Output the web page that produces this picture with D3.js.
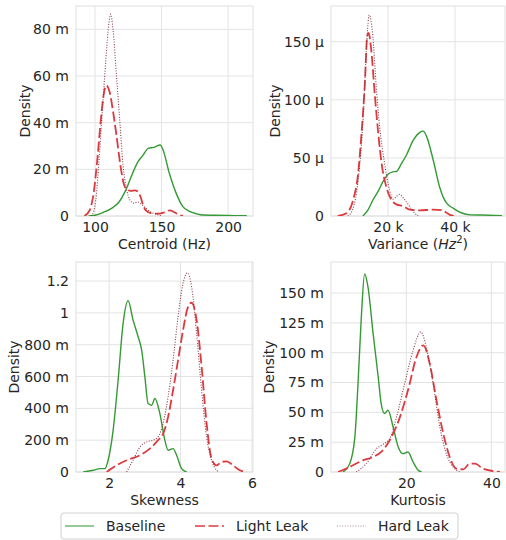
<!DOCTYPE html>
<html>
<head>
<meta charset="utf-8">
<script src="https://cdn.jsdelivr.net/npm/d3@7"></script>
<style>
body{margin:0;background:#fff;}
svg{font-family:"DejaVu Sans",sans-serif;}
</style>
</head>
<body>
<svg id="chart" width="506" height="540"></svg>
<script>
// series names for the legend
const seriesNames=["Baseline","Light Leak","Hard Leak"];

// Centroid (Hz) densities, [x, density]
const centroidBaseline=[[95,0],[100,0.3e-3],[106,1.5e-3],[113,3.5e-3],[118,6e-3],[123,11e-3],[128,18e-3],[132,23e-3],[136,26e-3],[140,29e-3],[144,29.4e-3],[149,30.4e-3],[151,28.5e-3],[156,18e-3],[161,9.7e-3],[166,4e-3],[171,2e-3],[176,1e-3],[181,0.4e-3],[190,0.3e-3],[200,0.2e-3],[214,0.1e-3]];
const centroidLight=[[92,0],[96,2.5e-3],[99,10e-3],[102,26e-3],[104.5,42e-3],[106.5,52e-3],[108.5,56e-3],[111,53e-3],[113.5,45e-3],[116,35e-3],[119,22e-3],[121.5,14e-3],[124,11.3e-3],[127,10.8e-3],[130,11e-3],[132,10.5e-3],[134,8.5e-3],[136,5e-3],[138,2.5e-3],[142,1.2e-3],[148,1e-3],[152,1.5e-3],[156,2.4e-3],[160,1.5e-3],[164,0.3e-3],[166,0]];
const centroidHard=[[97,0],[99,2e-3],[101,9e-3],[103,24e-3],[105.5,45e-3],[108,66e-3],[110.5,83e-3],[111.8,86.5e-3],[113.5,80e-3],[116,61e-3],[118.7,40e-3],[121,22e-3],[123.5,12e-3],[126,7e-3],[129,5.5e-3],[132,6e-3],[135,5e-3],[139,3e-3],[142,1.6e-3],[146,0.8e-3],[150,0]];

// Variance (Hz^2)
const varianceBaseline=[[12500,0],[14000,5e-6],[15500,13.8e-6],[17000,21e-6],[18500,29.5e-6],[20000,36e-6],[21500,38e-6],[22500,38.3e-6],[24000,45e-6],[25500,52.5e-6],[27500,65e-6],[29500,72e-6],[30500,73e-6],[31500,68.5e-6],[33500,48e-6],[35400,25e-6],[36500,16e-6],[37500,11e-6],[39500,6.6e-6],[42000,2.6e-6],[44500,1e-6],[48000,0.8e-6],[54000,0.3e-6]];
const varianceLight=[[5000,0],[7600,2.3e-6],[9600,13.8e-6],[11100,36.7e-6],[12100,71e-6],[13100,114e-6],[13800,155e-6],[14200,157.5e-6],[15000,143e-6],[16100,103e-6],[17100,71e-6],[18100,45e-6],[19500,25e-6],[21000,14e-6],[22500,10e-6],[24500,8.5e-6],[26500,5.5e-6],[29500,4.8e-6],[33500,5.5e-6],[36000,5e-6],[38500,1e-6],[40000,0]];
const varianceHard=[[8000,0],[9600,6.6e-6],[11100,31e-6],[12600,85e-6],[13500,140e-6],[14400,173e-6],[15500,154e-6],[16500,111e-6],[17500,77e-6],[19000,45e-6],[20500,22e-6],[21500,14.5e-6],[22500,16.6e-6],[23300,18.6e-6],[25000,14e-6],[26500,8e-6],[28000,2.3e-6],[29000,0]];

// Skewness
const skewBaseline=[[1.27,0],[1.55,0.011],[1.74,0.021],[1.88,0.021],[1.97,0.074],[2.11,0.262],[2.25,0.577],[2.39,0.934],[2.53,1.076],[2.67,0.955],[2.81,0.85],[2.91,0.766],[3.0,0.598],[3.09,0.43],[3.19,0.42],[3.28,0.462],[3.42,0.367],[3.56,0.2],[3.65,0.137],[3.79,0.147],[3.89,0.105],[4.03,0.021],[4.17,0]];
const skewLight=[[1.93,0],[2.21,0.042],[2.49,0.074],[2.86,0.105],[3.14,0.147],[3.37,0.2],[3.51,0.24],[3.65,0.346],[3.79,0.514],[3.93,0.703],[4.07,0.892],[4.21,1.038],[4.31,1.064],[4.45,0.955],[4.59,0.661],[4.73,0.305],[4.87,0.084],[5.01,0.042],[5.15,0.063],[5.29,0.067],[5.47,0.042],[5.66,0.011],[5.85,0]];
const skewHard=[[2.49,0],[2.67,0.074],[2.86,0.157],[3.05,0.189],[3.23,0.2],[3.37,0.22],[3.51,0.305],[3.65,0.472],[3.79,0.703],[3.93,0.976],[4.07,1.186],[4.19,1.252],[4.31,1.164],[4.45,0.871],[4.59,0.514],[4.73,0.22],[4.87,0.074],[5.01,0.011],[5.06,0]];

// Kurtosis
const kurtBaseline=[[5.1,0],[6.7,7e-3],[7.9,29e-3],[8.65,74e-3],[9.43,130e-3],[10.2,166e-3],[11.0,155e-3],[12.2,116e-3],[13.4,79.6e-3],[14.1,57e-3],[14.9,49e-3],[15.7,51.7e-3],[16.9,37.7e-3],[18.1,21e-3],[19.2,15.4e-3],[20.4,16.8e-3],[21.6,8.4e-3],[22.8,1.4e-3],[23.6,0]];
const kurtLight=[[3.95,0],[6.7,4.2e-3],[9.8,9.8e-3],[12.2,12.6e-3],[14.1,16.8e-3],[16.1,26.6e-3],[18.5,46e-3],[20.4,68.5e-3],[22.4,96.4e-3],[24,106.2e-3],[25.5,90.9e-3],[27.1,60e-3],[28.7,32.2e-3],[30.2,12.6e-3],[31.8,2.8e-3],[33.4,2.2e-3],[34.9,7e-3],[36.1,7e-3],[38.1,2.8e-3],[40.4,0.8e-3],[42,0]];
const kurtHard=[[8.25,0],[10.6,7e-3],[13,19.6e-3],[14.5,23.2e-3],[16.1,28e-3],[17.7,46e-3],[19.6,74e-3],[21.6,102e-3],[23.4,117.4e-3],[24.7,104.8e-3],[26.3,74e-3],[27.9,37.7e-3],[29.4,15.4e-3],[31,4.2e-3],[32.6,0]];

// ticks
const centroidXTicks=[100,150,200], centroidYTicks=[0,0.02,0.04,0.06,0.08], centroidYLabels=["0","20 m","40 m","60 m","80 m"];
const varianceXTicks=[20000,40000], varianceXLabels=["20 k","40 k"], varianceYTicks=[0,50e-6,100e-6,150e-6], varianceYLabels=["0","50 μ","100 μ","150 μ"];
const skewXTicks=[2,4,6], skewYTicks=[0,0.2,0.4,0.6,0.8,1,1.2], skewYLabels=["0","200 m","400 m","600 m","800 m","1","1.2"];
const kurtXTicks=[20,40], kurtYTicks=[0,0.025,0.05,0.075,0.1,0.125,0.15], kurtYLabels=["0","25 m","50 m","75 m","100 m","125 m","150 m"];

const styles=[
  {color:"#359a35",dash:null,width:1.4},
  {color:"#dc3a3f",dash:"10,3.5",width:1.8},
  {color:"#8a3a44",dash:"1,1.6",width:1.1}
];

const panels=[
  {x0:76,x1:253,y0:6,y1:216,xd:[85.7,218.7],yd:[0,0.09],xt:centroidXTicks,xl:centroidXTicks.map(String),yt:centroidYTicks,yl:centroidYLabels,title:"Centroid (Hz)",dens:30,series:[centroidBaseline,centroidLight,centroidHard]},
  {x0:331,x1:505,y0:6,y1:216,xd:[3000,54900],yd:[0,180.7e-6],xt:varianceXTicks,xl:varianceXLabels,yt:varianceYTicks,yl:varianceYLabels,title:"variance",dens:280,series:[varianceBaseline,varianceLight,varianceHard]},
  {x0:76,x1:253,y0:262,y1:472,xd:[1.07,6.03],yd:[0,1.32],xt:skewXTicks,xl:skewXTicks.map(String),yt:skewYTicks,yl:skewYLabels,title:"Skewness",dens:19,series:[skewBaseline,skewLight,skewHard]},
  {x0:331,x1:505,y0:262,y1:472,xd:[2.3,43.2],yd:[0,0.176],xt:kurtXTicks,xl:kurtXTicks.map(String),yt:kurtYTicks,yl:kurtYLabels,title:"Kurtosis",dens:274,series:[kurtBaseline,kurtLight,kurtHard]}
];

const svg=d3.select("#chart");
const txt="#262626";

panels.forEach(function(p,pi){
  const x=d3.scaleLinear().domain(p.xd).range([p.x0,p.x1]);
  const y=d3.scaleLinear().domain(p.yd).range([p.y1,p.y0]);
  const g=svg.append("g");
  // grid
  g.selectAll(".gx").data(p.xt.filter(function(d){return x(d)<=p.x1+0.5;})).enter().append("line")
    .attr("x1",function(d){return x(d);}).attr("x2",function(d){return x(d);})
    .attr("y1",p.y0).attr("y2",p.y1).attr("stroke","#e3e3e3").attr("stroke-width",1);
  g.selectAll(".gy").data(p.yt).enter().append("line")
    .attr("x1",p.x0).attr("x2",p.x1)
    .attr("y1",function(d){return y(d);}).attr("y2",function(d){return y(d);})
    .attr("stroke","#e3e3e3").attr("stroke-width",1);
  g.append("rect").attr("x",p.x0).attr("y",p.y0).attr("width",p.x1-p.x0).attr("height",p.y1-p.y0)
    .attr("fill","none").attr("stroke","#e0e0e0").attr("stroke-width",1);
  // axes
  const xa=d3.axisBottom(x).tickValues(p.xt).tickFormat(function(d,i){return p.xl[i];}).tickSize(0).tickPadding(6);
  const ya=d3.axisLeft(y).tickValues(p.yt).tickFormat(function(d,i){return p.yl[i];}).tickSize(0).tickPadding(7);
  [g.append("g").attr("transform","translate(0,"+p.y1+")").call(xa),
   g.append("g").attr("transform","translate("+p.x0+",0)").call(ya)].forEach(function(a){
     a.select(".domain").remove();
     a.selectAll("text").attr("fill",txt).style("font-size","14px").style("font-family","DejaVu Sans");
   });
  // curves
  const clipId="clip"+pi;
  svg.append("clipPath").attr("id",clipId).append("rect").attr("x",p.x0).attr("y",p.y0-2).attr("width",p.x1-p.x0).attr("height",p.y1-p.y0+2);
  const line=d3.line().x(function(d){return x(d[0]);}).y(function(d){return y(d[1]);}).curve(d3.curveMonotoneX);
  p.series.forEach(function(s,si){
    g.append("path").datum(s).attr("d",line).attr("clip-path","url(#"+clipId+")")
      .attr("fill","none").attr("stroke",styles[si].color).attr("stroke-width",styles[si].width)
      .attr("stroke-dasharray",styles[si].dash).attr("stroke-linejoin","round");
  });
  // labels
  const cx=(p.x0+p.x1)/2;
  const t=g.append("text").attr("x",cx).attr("y",p.y1+33).attr("text-anchor","middle")
    .attr("fill",txt).style("font-size","14px");
  if(p.title==="variance"){
    t.append("tspan").text("Variance (");
    t.append("tspan").style("font-style","italic").text("Hz");
    t.append("tspan").attr("dy",-6).style("font-size","10px").text("2");
    t.append("tspan").attr("dy",6).text(")");
  } else t.text(p.title);
  g.append("text").attr("transform","translate("+p.dens+","+((p.y0+p.y1)/2)+") rotate(-90)")
    .attr("text-anchor","middle").attr("fill",txt).style("font-size","14px").text("Density");
});

// legend
const lg=svg.append("g");
lg.append("rect").attr("x",61).attr("y",513).attr("width",397).attr("height",26).attr("rx",3)
  .attr("fill","#fff").attr("stroke","#d0d0d0").attr("stroke-width",1);
const lx=d3.scalePoint().domain(seriesNames).range([65,337]);
const textX=[106,236,378];
seriesNames.forEach(function(n,i){
  const x0=i===2?lx(n):lx(n)+(i===1?-6:0);
  lg.append("line").attr("x1",x0).attr("x2",x0+29).attr("y1",526).attr("y2",526)
    .attr("stroke",styles[i].color).attr("stroke-width",styles[i].width).attr("stroke-dasharray",styles[i].dash)
    .attr("opacity",i===2?0.6:0.75);
  lg.append("text").attr("x",textX[i]).attr("y",531).attr("fill",txt).style("font-size","14px").text(n);
});
</script>
</body>
</html>
